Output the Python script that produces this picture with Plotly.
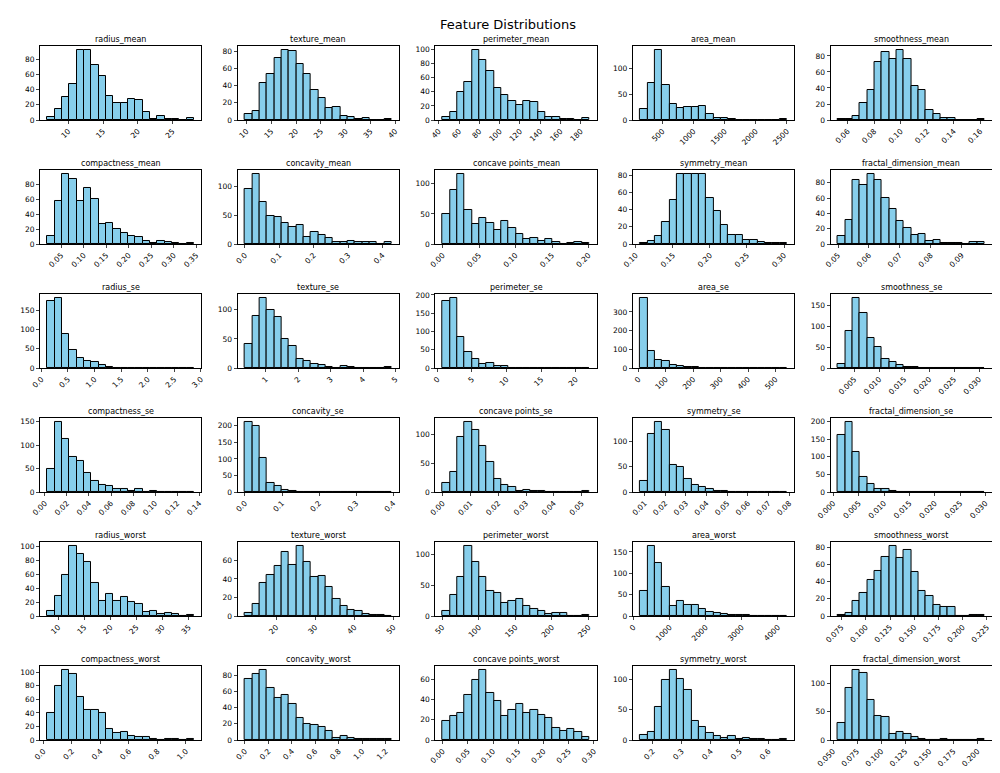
import plotly.graph_objects as go
from plotly.subplots import make_subplots

features = ["radius_mean","texture_mean","perimeter_mean","area_mean","smoothness_mean",
"compactness_mean","concavity_mean","concave points_mean","symmetry_mean","fractal_dimension_mean",
"radius_se","texture_se","perimeter_se","area_se","smoothness_se",
"compactness_se","concavity_se","concave points_se","symmetry_se","fractal_dimension_se",
"radius_worst","texture_worst","perimeter_worst","area_worst","smoothness_worst",
"compactness_worst","concavity_worst","concave points_worst","symmetry_worst","fractal_dimension_worst"]

mins = [6.981,9.71,43.79,143.5,0.05263,0.01938,0.0,0.0,0.106,0.04996,
0.1115,0.3602,0.757,6.802,0.001713,0.002252,0.0,0.0,0.007882,0.0008948,
7.93,12.02,50.41,185.2,0.07117,0.02729,0.0,0.0,0.1565,0.05504]
maxs = [28.11,39.28,188.5,2501,0.1634,0.3454,0.4268,0.2012,0.304,0.09744,
2.873,4.885,21.98,542.2,0.03113,0.1354,0.396,0.05279,0.07895,0.02984,
36.04,49.54,251.2,4254,0.2226,1.058,1.252,0.291,0.6638,0.2075]

counts = [
[4,15,31,48,93,92,72,58,32,23,22,28,27,11,2,5,2,2,0,3],
[7,10,43,53,72,82,80,65,54,35,26,14,15,5,3,1,2,0,0,1],
[5,11,40,54,100,85,70,46,35,27,22,27,25,11,5,5,2,1,0,3],
[22,71,137,69,32,23,25,25,27,11,4,4,2,1,1,0,0,0,0,2],
[1,1,5,21,37,73,85,76,88,76,42,37,13,7,3,2,0,0,0,1],
[11,57,94,87,58,75,60,27,28,20,15,11,10,4,2,4,3,1,0,1],
[95,122,73,48,47,37,30,33,13,21,15,10,3,3,6,3,3,3,0,3],
[50,90,117,56,33,44,35,23,39,27,16,8,10,5,9,3,0,1,3,2],
[1,4,9,26,51,82,82,81,82,53,38,22,10,11,5,5,2,1,1,1],
[10,31,83,77,92,83,60,46,30,21,12,13,4,5,1,1,1,0,2,2],
[176,184,89,47,26,18,15,9,3,1,1,0,0,0,0,0,0,1,0,1],
[41,89,121,99,87,50,37,16,12,7,5,2,0,3,1,0,0,0,0,1],
[184,193,86,45,24,10,14,6,6,1,0,0,0,0,0,0,0,0,1,1],
[377,91,41,36,16,9,4,3,0,0,0,0,0,0,0,0,0,0,0,1],
[9,88,168,131,71,50,21,15,8,2,2,1,1,1,0,0,0,0,0,1],
[50,150,112,74,65,40,23,16,13,7,7,2,7,1,2,1,0,0,0,1],
[213,199,103,26,17,6,3,0,0,0,0,0,0,0,0,1,0,0,0,1],
[16,35,96,123,108,80,52,22,12,9,2,3,1,1,0,0,0,0,0,1],
[22,115,140,124,53,50,26,14,10,7,2,2,1,1,0,0,0,0,0,1],
[162,200,113,44,22,8,8,4,1,0,1,0,0,1,1,0,0,0,0,1],
[7,28,59,101,89,78,47,22,32,22,27,20,17,6,7,3,4,3,0,1],
[3,13,36,44,54,69,55,76,58,42,43,31,18,11,6,5,2,1,1,0],
[9,35,63,115,88,63,41,37,21,25,28,17,12,8,4,5,5,0,0,1],
[58,165,125,69,23,36,26,26,17,9,6,4,3,3,2,0,1,0,0,1],
[1,4,17,27,42,52,69,82,67,77,51,29,23,13,10,11,0,0,1,1],
[40,79,104,97,64,45,45,40,17,11,12,6,4,4,2,0,2,2,0,1],
[75,82,87,64,52,56,45,27,20,18,16,11,3,5,3,1,1,1,1,1],
[19,24,27,45,60,70,47,39,24,30,36,27,30,25,22,12,9,11,8,3],
[9,14,55,99,117,102,83,31,22,12,7,4,6,2,3,1,1,0,0,1],
[30,93,125,118,71,42,40,10,14,10,6,2,0,0,1,0,0,0,0,1],
]

xdticks = [5,5,20,500,0.02, 0.05,0.1,0.05,0.05,0.01,
0.5,1,5,100,0.005, 0.02,0.1,0.01,0.01,0.005,
5,10,50,1000,0.025, 0.2,0.2,0.05,0.1,0.025]
xformats = ["d","d","d","d",".2f", ".2f",".1f",".2f",".2f",".2f",
".1f","d","d","d",".3f", ".2f",".1f",".2f",".2f",".3f",
"d","d","d","d",".3f", ".1f",".1f",".2f",".1f",".3f"]

NB = 20
fig = make_subplots(rows=6, cols=5, subplot_titles=features,
                    horizontal_spacing=0.038, vertical_spacing=0.072)
for i, name in enumerate(features):
    r, c = i // 5 + 1, i % 5 + 1
    lo, hi = mins[i], maxs[i]
    w = (hi - lo) / NB
    xs = [lo + w * (k + 0.5) for k in range(NB)]
    fig.add_trace(go.Bar(x=xs, y=counts[i], width=[w] * NB,
                         marker=dict(color="#87CEEB", line=dict(color="black", width=1)),
                         showlegend=False, name=name), row=r, col=c)
    pad = (hi - lo) * 0.05
    fig.update_xaxes(range=[lo - pad, hi + pad], dtick=xdticks[i], tick0=0,
                     tickformat=xformats[i], tickangle=-45, row=r, col=c)
    fig.update_yaxes(range=[0, max(counts[i]) * 1.05], row=r, col=c)

fig.update_xaxes(showline=True, linecolor="black", mirror=True, showgrid=False, zeroline=False,
                 ticks="outside", tickangle=-45, tickfont=dict(size=7.5), ticklen=3)
fig.update_yaxes(showline=True, linecolor="black", mirror=True, showgrid=False, zeroline=False,
                 ticks="outside", tickfont=dict(size=7.5), nticks=6, ticklen=3)
for a in fig.layout.annotations:
    a.font = dict(size=8, color="black")
fig.update_layout(width=1000, height=773, bargap=0, plot_bgcolor="white", paper_bgcolor="white",
                  font=dict(family="DejaVu Sans", color="black"),
                  title=dict(text="Feature Distributions", x=0.5, y=0.985, font=dict(size=13)),
                  margin=dict(l=32, r=14, t=38, b=30))
fig.write_html("out.html")
